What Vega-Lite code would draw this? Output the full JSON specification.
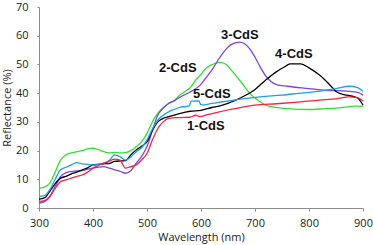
{
  "$schema": "https://vega.github.io/schema/vega-lite/v6.json",
  "width": 324,
  "height": 201,
  "autosize": "none",
  "padding": {"left": 39, "top": 7, "right": 10, "bottom": 37},
  "background": "white",
  "config": {"view": {"stroke": null}, "font": "Liberation Sans"},
  "datasets": {
    "curves": [
      {"s":"2-CdS","wl":300,"r":6.9},{"s":"2-CdS","wl":310,"r":7.3},{"s":"2-CdS","wl":320,"r":8.7},{"s":"2-CdS","wl":330,"r":12.5},{"s":"2-CdS","wl":340,"r":16.7},{"s":"2-CdS","wl":350,"r":18.5},{"s":"2-CdS","wl":360,"r":19.2},{"s":"2-CdS","wl":370,"r":19.6},{"s":"2-CdS","wl":380,"r":20},{"s":"2-CdS","wl":390,"r":20.6},{"s":"2-CdS","wl":400,"r":20.8},{"s":"2-CdS","wl":410,"r":20.3},{"s":"2-CdS","wl":420,"r":19.6},{"s":"2-CdS","wl":430,"r":19.2},{"s":"2-CdS","wl":440,"r":19.4},{"s":"2-CdS","wl":450,"r":19.2},{"s":"2-CdS","wl":460,"r":19.3},{"s":"2-CdS","wl":470,"r":20},{"s":"2-CdS","wl":480,"r":21.4},{"s":"2-CdS","wl":490,"r":23},{"s":"2-CdS","wl":500,"r":26},{"s":"2-CdS","wl":510,"r":30},{"s":"2-CdS","wl":520,"r":33},{"s":"2-CdS","wl":530,"r":35},{"s":"2-CdS","wl":540,"r":36.4},{"s":"2-CdS","wl":550,"r":37.3},{"s":"2-CdS","wl":560,"r":39.2},{"s":"2-CdS","wl":570,"r":40.5},{"s":"2-CdS","wl":580,"r":41.9},{"s":"2-CdS","wl":590,"r":44.5},{"s":"2-CdS","wl":600,"r":46.5},{"s":"2-CdS","wl":610,"r":48.8},{"s":"2-CdS","wl":620,"r":49.9},{"s":"2-CdS","wl":635,"r":50.7},{"s":"2-CdS","wl":645,"r":50.2},{"s":"2-CdS","wl":655,"r":48.3},{"s":"2-CdS","wl":665,"r":46},{"s":"2-CdS","wl":675,"r":43.7},{"s":"2-CdS","wl":690,"r":40},{"s":"2-CdS","wl":700,"r":38.3},{"s":"2-CdS","wl":710,"r":36.9},{"s":"2-CdS","wl":720,"r":35.8},{"s":"2-CdS","wl":730,"r":35.3},{"s":"2-CdS","wl":760,"r":34.6},{"s":"2-CdS","wl":800,"r":34.3},{"s":"2-CdS","wl":830,"r":34.6},{"s":"2-CdS","wl":850,"r":34.8},{"s":"2-CdS","wl":870,"r":35.2},{"s":"2-CdS","wl":885,"r":35.5},{"s":"2-CdS","wl":900,"r":35.4},

      {"s":"3-CdS","wl":300,"r":1.7},{"s":"3-CdS","wl":310,"r":2.2},{"s":"3-CdS","wl":320,"r":4},{"s":"3-CdS","wl":330,"r":7.5},{"s":"3-CdS","wl":340,"r":11},{"s":"3-CdS","wl":350,"r":12.3},{"s":"3-CdS","wl":360,"r":12.7},{"s":"3-CdS","wl":370,"r":12.9},{"s":"3-CdS","wl":380,"r":13},{"s":"3-CdS","wl":390,"r":13.5},{"s":"3-CdS","wl":400,"r":13.9},{"s":"3-CdS","wl":410,"r":14.2},{"s":"3-CdS","wl":420,"r":14.4},{"s":"3-CdS","wl":430,"r":13.9},{"s":"3-CdS","wl":440,"r":13.3},{"s":"3-CdS","wl":450,"r":12.8},{"s":"3-CdS","wl":460,"r":12.1},{"s":"3-CdS","wl":470,"r":13},{"s":"3-CdS","wl":480,"r":15.6},{"s":"3-CdS","wl":490,"r":18},{"s":"3-CdS","wl":500,"r":21.4},{"s":"3-CdS","wl":510,"r":27},{"s":"3-CdS","wl":520,"r":32.3},{"s":"3-CdS","wl":530,"r":34.8},{"s":"3-CdS","wl":540,"r":36.4},{"s":"3-CdS","wl":550,"r":37.3},{"s":"3-CdS","wl":560,"r":38.5},{"s":"3-CdS","wl":580,"r":40.4},{"s":"3-CdS","wl":598,"r":42.7},{"s":"3-CdS","wl":610,"r":45.5},{"s":"3-CdS","wl":620,"r":48},{"s":"3-CdS","wl":635,"r":52.5},{"s":"3-CdS","wl":645,"r":55},{"s":"3-CdS","wl":655,"r":56.8},{"s":"3-CdS","wl":665,"r":57.6},{"s":"3-CdS","wl":672,"r":57.8},{"s":"3-CdS","wl":680,"r":57.3},{"s":"3-CdS","wl":690,"r":55.5},{"s":"3-CdS","wl":700,"r":52.5},{"s":"3-CdS","wl":710,"r":49},{"s":"3-CdS","wl":720,"r":46},{"s":"3-CdS","wl":730,"r":44},{"s":"3-CdS","wl":740,"r":43},{"s":"3-CdS","wl":760,"r":42.4},{"s":"3-CdS","wl":800,"r":41.6},{"s":"3-CdS","wl":830,"r":41},{"s":"3-CdS","wl":870,"r":40.7},{"s":"3-CdS","wl":890,"r":40.3},{"s":"3-CdS","wl":900,"r":39.3},

      {"s":"4-CdS","wl":300,"r":3.1},{"s":"4-CdS","wl":310,"r":3.5},{"s":"4-CdS","wl":320,"r":5.8},{"s":"4-CdS","wl":330,"r":8.5},{"s":"4-CdS","wl":340,"r":10.4},{"s":"4-CdS","wl":350,"r":11},{"s":"4-CdS","wl":360,"r":11.9},{"s":"4-CdS","wl":370,"r":12.5},{"s":"4-CdS","wl":380,"r":13.3},{"s":"4-CdS","wl":390,"r":14},{"s":"4-CdS","wl":400,"r":15},{"s":"4-CdS","wl":410,"r":15.2},{"s":"4-CdS","wl":420,"r":15.4},{"s":"4-CdS","wl":430,"r":15.5},{"s":"4-CdS","wl":440,"r":16.2},{"s":"4-CdS","wl":450,"r":16.4},{"s":"4-CdS","wl":460,"r":16.5},{"s":"4-CdS","wl":470,"r":18.5},{"s":"4-CdS","wl":480,"r":20.2},{"s":"4-CdS","wl":490,"r":21.5},{"s":"4-CdS","wl":500,"r":23.1},{"s":"4-CdS","wl":510,"r":27},{"s":"4-CdS","wl":520,"r":30},{"s":"4-CdS","wl":530,"r":31.2},{"s":"4-CdS","wl":540,"r":31.8},{"s":"4-CdS","wl":560,"r":32.9},{"s":"4-CdS","wl":580,"r":33.7},{"s":"4-CdS","wl":600,"r":34},{"s":"4-CdS","wl":620,"r":35},{"s":"4-CdS","wl":640,"r":35.8},{"s":"4-CdS","wl":660,"r":37.2},{"s":"4-CdS","wl":680,"r":39},{"s":"4-CdS","wl":700,"r":41.3},{"s":"4-CdS","wl":720,"r":44.6},{"s":"4-CdS","wl":740,"r":47.5},{"s":"4-CdS","wl":755,"r":49.2},{"s":"4-CdS","wl":765,"r":50.2},{"s":"4-CdS","wl":785,"r":50.2},{"s":"4-CdS","wl":800,"r":48.8},{"s":"4-CdS","wl":820,"r":46.2},{"s":"4-CdS","wl":840,"r":42.6},{"s":"4-CdS","wl":850,"r":40.6},{"s":"4-CdS","wl":860,"r":39.7},{"s":"4-CdS","wl":870,"r":39.3},{"s":"4-CdS","wl":890,"r":38.3},{"s":"4-CdS","wl":900,"r":35.8},

      {"s":"5-CdS","wl":300,"r":4},{"s":"5-CdS","wl":310,"r":4.3},{"s":"5-CdS","wl":320,"r":6.4},{"s":"5-CdS","wl":330,"r":10},{"s":"5-CdS","wl":340,"r":13.3},{"s":"5-CdS","wl":350,"r":14.2},{"s":"5-CdS","wl":360,"r":15},{"s":"5-CdS","wl":370,"r":15.8},{"s":"5-CdS","wl":380,"r":15.4},{"s":"5-CdS","wl":390,"r":15.2},{"s":"5-CdS","wl":400,"r":15},{"s":"5-CdS","wl":410,"r":15.2},{"s":"5-CdS","wl":420,"r":15.6},{"s":"5-CdS","wl":430,"r":16.5},{"s":"5-CdS","wl":440,"r":18.5},{"s":"5-CdS","wl":450,"r":17.9},{"s":"5-CdS","wl":460,"r":16.7},{"s":"5-CdS","wl":470,"r":17.8},{"s":"5-CdS","wl":480,"r":19.6},{"s":"5-CdS","wl":490,"r":21},{"s":"5-CdS","wl":500,"r":23.7},{"s":"5-CdS","wl":510,"r":27.5},{"s":"5-CdS","wl":520,"r":30.6},{"s":"5-CdS","wl":530,"r":32.3},{"s":"5-CdS","wl":540,"r":33.5},{"s":"5-CdS","wl":550,"r":34.3},{"s":"5-CdS","wl":560,"r":35},{"s":"5-CdS","wl":578,"r":35.6},{"s":"5-CdS","wl":582,"r":37.2},{"s":"5-CdS","wl":596,"r":37.3},{"s":"5-CdS","wl":600,"r":35.9},{"s":"5-CdS","wl":620,"r":36.4},{"s":"5-CdS","wl":640,"r":37},{"s":"5-CdS","wl":670,"r":37.8},{"s":"5-CdS","wl":710,"r":38.7},{"s":"5-CdS","wl":750,"r":39.3},{"s":"5-CdS","wl":780,"r":39.9},{"s":"5-CdS","wl":820,"r":40.7},{"s":"5-CdS","wl":850,"r":41.6},{"s":"5-CdS","wl":875,"r":42.4},{"s":"5-CdS","wl":890,"r":41.9},{"s":"5-CdS","wl":900,"r":40.6},

      {"s":"1-CdS","wl":300,"r":2.3},{"s":"1-CdS","wl":310,"r":2.6},{"s":"1-CdS","wl":320,"r":4},{"s":"1-CdS","wl":330,"r":6.8},{"s":"1-CdS","wl":340,"r":9.2},{"s":"1-CdS","wl":350,"r":9.8},{"s":"1-CdS","wl":360,"r":10.4},{"s":"1-CdS","wl":370,"r":11},{"s":"1-CdS","wl":380,"r":11.5},{"s":"1-CdS","wl":390,"r":12.5},{"s":"1-CdS","wl":400,"r":13.9},{"s":"1-CdS","wl":410,"r":14.8},{"s":"1-CdS","wl":420,"r":15.6},{"s":"1-CdS","wl":430,"r":16.3},{"s":"1-CdS","wl":440,"r":17},{"s":"1-CdS","wl":450,"r":16.7},{"s":"1-CdS","wl":460,"r":13.9},{"s":"1-CdS","wl":470,"r":14.4},{"s":"1-CdS","wl":480,"r":15},{"s":"1-CdS","wl":490,"r":16.7},{"s":"1-CdS","wl":500,"r":19},{"s":"1-CdS","wl":510,"r":23.7},{"s":"1-CdS","wl":520,"r":27.7},{"s":"1-CdS","wl":530,"r":30},{"s":"1-CdS","wl":540,"r":31.2},{"s":"1-CdS","wl":560,"r":31.5},{"s":"1-CdS","wl":580,"r":31.6},{"s":"1-CdS","wl":590,"r":32.3},{"s":"1-CdS","wl":598,"r":31.8},{"s":"1-CdS","wl":610,"r":32.4},{"s":"1-CdS","wl":630,"r":33.3},{"s":"1-CdS","wl":660,"r":34.5},{"s":"1-CdS","wl":700,"r":35.8},{"s":"1-CdS","wl":740,"r":36.3},{"s":"1-CdS","wl":780,"r":36.9},{"s":"1-CdS","wl":820,"r":37.6},{"s":"1-CdS","wl":850,"r":38},{"s":"1-CdS","wl":875,"r":38.7},{"s":"1-CdS","wl":890,"r":38.4},{"s":"1-CdS","wl":900,"r":37.3}
    ],
    "labels": [
      {"t":"2-CdS","wl":557,"r":48.6},
      {"t":"3-CdS","wl":672,"r":60.4},
      {"t":"4-CdS","wl":772,"r":53.5},
      {"t":"5-CdS","wl":620,"r":39.6},
      {"t":"1-CdS","wl":609,"r":28.5}
    ]
  },
  "encoding": {
    "x": {"field": "wl", "type": "quantitative",
      "scale": {"domain": [300, 900], "nice": false, "zero": false},
      "axis": {"title": "Wavelength (nm)", "values": [300,400,500,600,700,800,900], "grid": false,
        "labelOverlap": false, "labelFlush": false,
        "domainColor": "#8c8c8c", "tickColor": "#8c8c8c", "tickSize": 3, "labelPadding": 6,
        "labelFont": "Open Sans", "labelFontSize": 11, "labelColor": "#222",
        "titleFont": "Open Sans", "titleFontSize": 11, "titleFontWeight": "normal", "titleColor": "#222", "titlePadding": 3}},
    "y": {"field": "r", "type": "quantitative",
      "scale": {"domain": [0, 70], "nice": false},
      "axis": {"title": "Reflectance (%)", "values": [0,10,20,30,40,50,60,70], "grid": false,
        "labelOverlap": false, "labelFlush": false,
        "tickColor": "#8c8c8c", "tickSize": 2,
        "domainColor": "#8c8c8c", "labelPadding": 9,
        "labelFont": "Open Sans", "labelFontSize": 11, "labelColor": "#222",
        "titleFont": "Open Sans", "titleFontSize": 11, "titleFontWeight": "normal", "titleColor": "#222", "titlePadding": 3}}
  },
  "layer": [
    {
      "data": {"name": "curves"},
      "mark": {"type": "line", "strokeWidth": 1.3, "interpolate": "monotone"},
      "encoding": {
        "color": {"field": "s", "type": "nominal", "legend": null,
          "scale": {"domain": ["1-CdS","2-CdS","3-CdS","4-CdS","5-CdS"],
            "range": ["#f2243e","#33e033","#7d42e6","#000000","#1fa0e8"]}},
        "detail": {"field": "s"}
      }
    },
    {
      "data": {"name": "labels"},
      "mark": {"type": "text", "font": "Liberation Sans", "fontWeight": "bold", "fontSize": 13, "color": "#111", "align": "center", "baseline": "middle"},
      "encoding": {
        "text": {"field": "t"}
      }
    }
  ]
}
